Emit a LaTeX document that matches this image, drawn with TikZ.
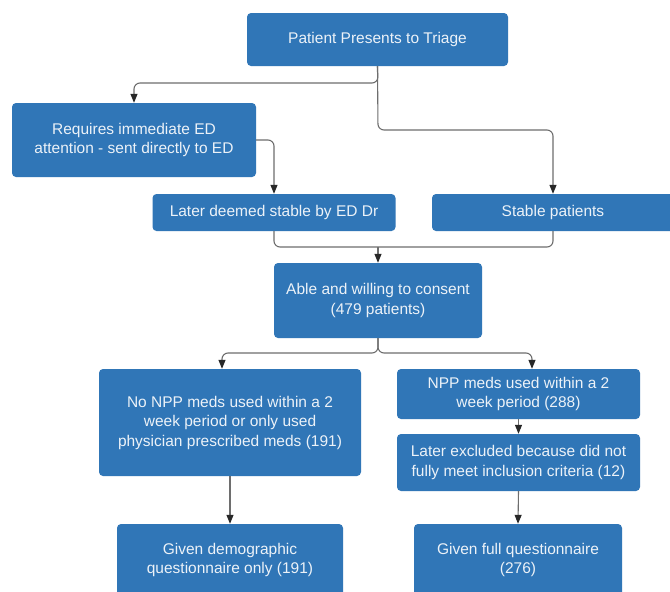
\documentclass[tikz,border=0pt]{standalone}
\usepackage{fontspec}
\setmainfont{Liberation Sans}
\usetikzlibrary{arrows.meta}
\definecolor{boxblue}{RGB}{48,118,183}
\definecolor{boxtext}{RGB}{236,242,248}
\definecolor{linegray}{RGB}{110,110,110}
\definecolor{tipgray}{RGB}{40,40,40}
\begin{document}
\begin{tikzpicture}[x=1pt,y=-1pt,
  flowbox/.style={draw=none,fill=boxblue,rounded corners=4pt,text=boxtext,
    align=center,inner sep=0pt,font=\fontsize{15.5pt}{19.5pt}\selectfont},
  conn/.style={draw=linegray,line width=1.1pt,rounded corners=6pt},
  arr/.style={conn,-{Triangle[length=9pt,width=7pt,color=tipgray]}}]
\useasboundingbox (0,0) rectangle (670,592);
\clip (0,0) rectangle (670,592);
\fill[white] (0,0) rectangle (670,592);
% boxes
\node[flowbox,minimum width=261pt,minimum height=53pt] (triage) at (377.5,39.5) {Patient Presents to Triage};
\node[flowbox,minimum width=244pt,minimum height=74pt] (req) at (134,140) {Requires immediate ED\\attention - sent directly to ED};
\node[flowbox,minimum width=243pt,minimum height=37pt] (later) at (274,212.5) {Later deemed stable by ED Dr};
\node[flowbox,minimum width=242pt,minimum height=37pt] (stable) at (553,212.5) {Stable patients};
\node[flowbox,minimum width=208pt,minimum height=75pt] (able) at (378,300.5) {Able and willing to consent\\(479 patients)};
\node[flowbox,minimum width=262pt,minimum height=107pt] (nonpp) at (230,422.5) {No NPP meds used within a 2\\week period or only used\\physician prescribed meds (191)};
\node[flowbox,minimum width=243pt,minimum height=50pt] (npp) at (518.5,394) {NPP meds used within a 2\\week period (288)};
\node[flowbox,minimum width=243pt,minimum height=57pt] (excl) at (518.5,462.5) {Later excluded because did not\\fully meet inclusion criteria (12)};
\node[flowbox,minimum width=226pt,minimum height=72pt] (demo) at (230,560) {Given demographic\\questionnaire only (191)};
\node[flowbox,minimum width=208pt,minimum height=72pt] (full) at (518,560) {Given full questionnaire\\(276)};
% connectors
\coordinate (t1) at (378,83);
\coordinate (t2) at (378,130);
\coordinate (m1) at (378,247);
\coordinate (b1) at (378,353);
\draw[arr] (triage.south) -- (t1) -| (req.north);
\draw[arr] (triage.south) -- (t2) -| (stable.north);
\draw[arr] (req.east |- 0,140) -| (later.north);
\draw[conn] (later.south) |- (m1) -| (stable.south);
\draw[arr] (m1) -- (able.north);
\draw[arr] (able.south) -- (b1) -| ([xshift=-8pt]nonpp.north);
\draw[arr] (able.south) -- (b1) -| ([xshift=13.5pt]npp.north);
\draw[arr] (nonpp.south) -- (demo.north);
\draw[arr] (npp.south) -- (excl.north);
\draw[arr] (excl.south) -- (full.north);
\end{tikzpicture}
\end{document}
